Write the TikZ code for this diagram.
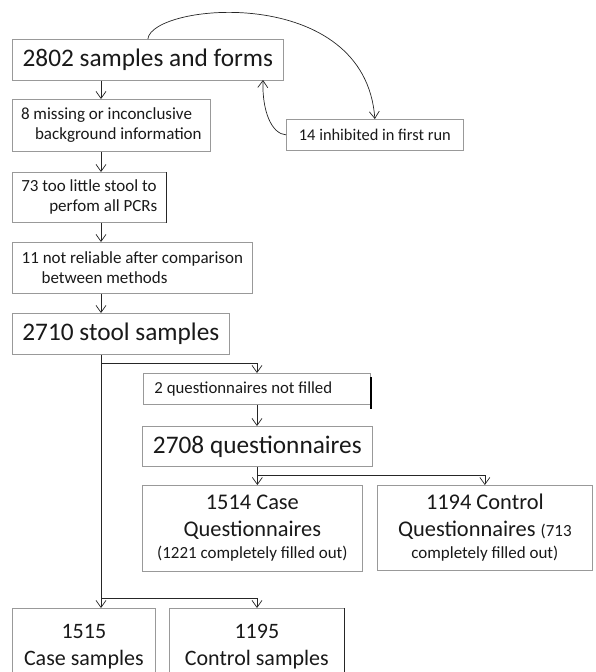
\documentclass[tikz,border=0pt]{standalone}
\usepackage{fontspec}
\setmainfont{Carlito}
\usetikzlibrary{arrows.meta}
\begin{document}
\begin{tikzpicture}[x=1pt,y=-1pt,
  box/.style={draw=black!40, line width=0.7pt, anchor=north west, inner sep=0pt, align=center, text=black!90},
  arr/.style={draw=black!85, line width=0.7pt, -{Straight Barb[length=7pt,width=10pt]}},
  fA/.style={font=\fontsize{25.3}{30}\selectfont},
  fB/.style={font=\fontsize{17}{20}\selectfont},
]
\useasboundingbox (0,0) rectangle (596,672);
\clip (0,0) rectangle (596,672);
% columns
\coordinate (t) at (101,0);
\coordinate (u) at (257,0);
\coordinate (r1) at (0,363);
\coordinate (r2) at (0,598);
\coordinate (r3) at (0,475);
% boxes
\node[box, fA, minimum width=271pt, minimum height=41pt] (A) at (12,39) {2802 samples and forms};
\node[box, font=\fontsize{16.4}{20}\selectfont, minimum width=177pt, minimum height=31pt] (C) at (286,119) {14 inhibited in first run};
\node[box, fB, align=left, minimum width=198pt, minimum height=52pt] (B) at (12,99) {8 missing or inconclusive\\\hspace*{14pt}background information};
\node[box, fB, align=left, minimum width=154pt, minimum height=50pt] (D) at (12,172) {73 too little stool to\\\hspace*{28pt}perfom all PCRs};
\node[box, fB, align=left, minimum width=240pt, minimum height=51pt] (E) at (12,242) {11 not reliable after comparison\\\hspace*{20pt}between methods};
\node[box, fA, minimum width=217pt, minimum height=41pt] (F) at (12,313) {2710 stool samples};
\node[box, font=\fontsize{16.8}{20}\selectfont, minimum width=227pt, minimum height=31pt] (G) at (143,373) {2 questionnaires not filled\hspace*{27pt}};
\node[box, fA, minimum width=230pt, minimum height=40pt] (H) at (142,426) {2708 questionnaires};
\node[box, font=\fontsize{22.4}{27}\selectfont, minimum width=220pt, minimum height=86pt] (I) at (142,485) {1514 Case\\Questionnaires\\[-5pt]{\fontsize{17}{22}\selectfont (1221 completely filled out)}};
\node[box, font=\fontsize{22.4}{27}\selectfont, minimum width=215pt, minimum height=85pt] (J) at (377,485) {1194 Control\\Questionnaires {\fontsize{17}{22}\selectfont (713}\\[-5pt]{\fontsize{17}{22}\selectfont completely filled out)}};
\node[box, font=\fontsize{22}{27}\selectfont, minimum width=143pt, minimum height=76pt] (K) at (12,608) {1515\\Case samples};
\node[box, font=\fontsize{22}{27}\selectfont, minimum width=175pt, minimum height=76pt] (L) at (169,608) {1195\\Control samples};
% darker edges
\draw[black!85, line width=0.8pt] (D.north east) -- (D.south east);
\draw[black, line width=1.6pt] (G.north east) ++(0,4) -- ([yshift=-4pt]G.south east);
\draw[black!85, line width=0.8pt] (L.north east) -- (L.south east);
% loop arrows
\draw[arr] (A.north) .. controls (152,3) and (365,-17) .. (C.north);
\coordinate (a2) at (263,80);
\draw[arr] (C.west) .. controls (272,134) and (262,112) .. (a2);
% vertical chain
\draw[arr] (A.south -| t) -- (B.north -| t);
\draw[arr] (B.south -| t) -- (D.north -| t);
\draw[arr] (D.south -| t) -- (E.north -| t);
\draw[arr] (E.south -| t) -- (F.north -| t);
\draw[arr] (F.south -| t) -- (K.north -| t);
\draw[arr] (t |- r1) -| (G.north -| u);
\draw[arr] (G.south -| u) -- (H.north -| u);
\draw[arr] (H.south) -- (I.north -| H.south);
\draw[arr] (H.south |- r3) -| (J.north);
\draw[arr] (t |- r2) -| (L.north -| u);
\end{tikzpicture}
\end{document}
